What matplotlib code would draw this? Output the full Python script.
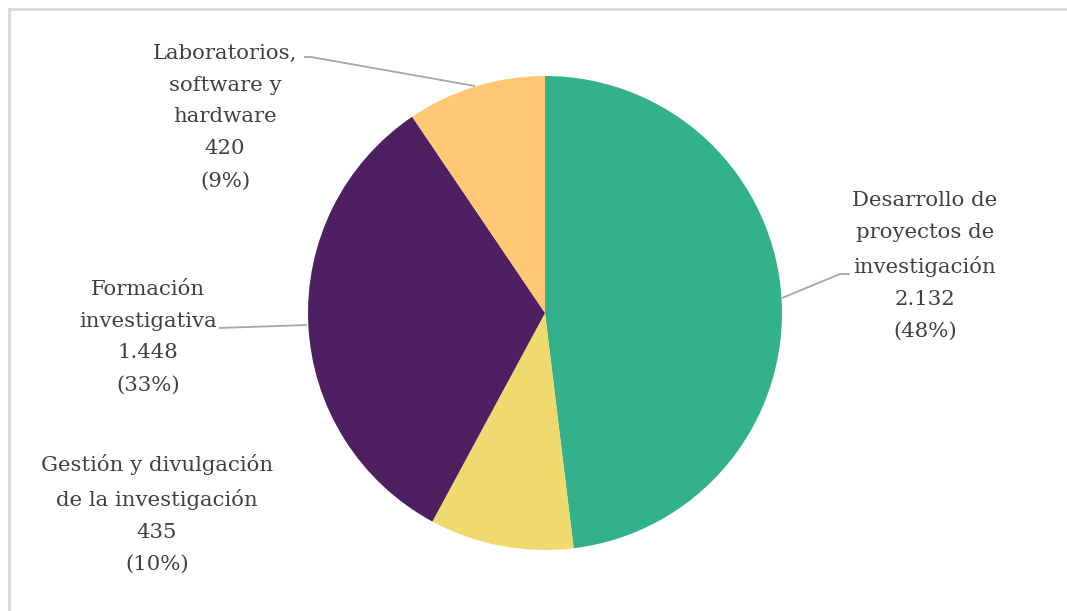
import matplotlib
matplotlib.use("Agg")
import matplotlib.pyplot as plt
from matplotlib.patches import Rectangle

# data
categories = [
    "Desarrollo de\nproyectos de\ninvestigación",
    "Gestión y divulgación\nde la investigación",
    "Formación\ninvestigativa",
    "Laboratorios,\nsoftware y\nhardware",
]
values = [2132, 435, 1448, 420]
value_labels = ["2.132", "435", "1.448", "420"]
colors = ["#33B18B", "#F0D96E", "#4E1F61", "#FFC875"]

W, H = 1067, 611
fig = plt.figure(figsize=(W / 100, H / 100), dpi=100)
ax = fig.add_axes([0, 0, 1, 1])

# outer frame (only left/top visible in the reference)
ax.add_patch(Rectangle((8.5, -10), W + 20, H - 8.5 + 10, fill=False,
                       edgecolor="#D9D9D9", linewidth=2))

cx, cy, r = 545, H - 313, 237
ax.pie(values, colors=colors, startangle=90, counterclock=False,
       center=(cx, cy), radius=r, frame=True,
       wedgeprops=dict(linewidth=0))
ax.set_xlim(0, W)
ax.set_ylim(0, H)
ax.set_aspect("equal")
ax.axis("off")

total = sum(values)
pcts = [round(v / total * 100) for v in values]

# label centres (pixel coords, y from top)
label_pos = [(925, 266), (157, 514), (148, 337), (225, 117)]
font = dict(family=["DejaVu Serif"], fontsize=15.3, color="#404040",
            ha="center", va="center", linespacing=1.86)
for cat, vl, p, (x, y) in zip(categories, value_labels, pcts, label_pos):
    ax.text(x, H - y, f"{cat}\n{vl}\n({p}%)", **font)

# leader lines
leaders = [
    [(850, 274), (840, 274), (782, 298)],
    [(219, 328), (307, 325)],
    [(304, 57), (311, 57), (475, 86)],
]
for pts in leaders:
    xs = [p[0] for p in pts]
    ys = [H - p[1] for p in pts]
    ax.plot(xs, ys, color="#A6A6A6", linewidth=1.3, solid_capstyle="butt")

fig.savefig("out.png", dpi=100)
